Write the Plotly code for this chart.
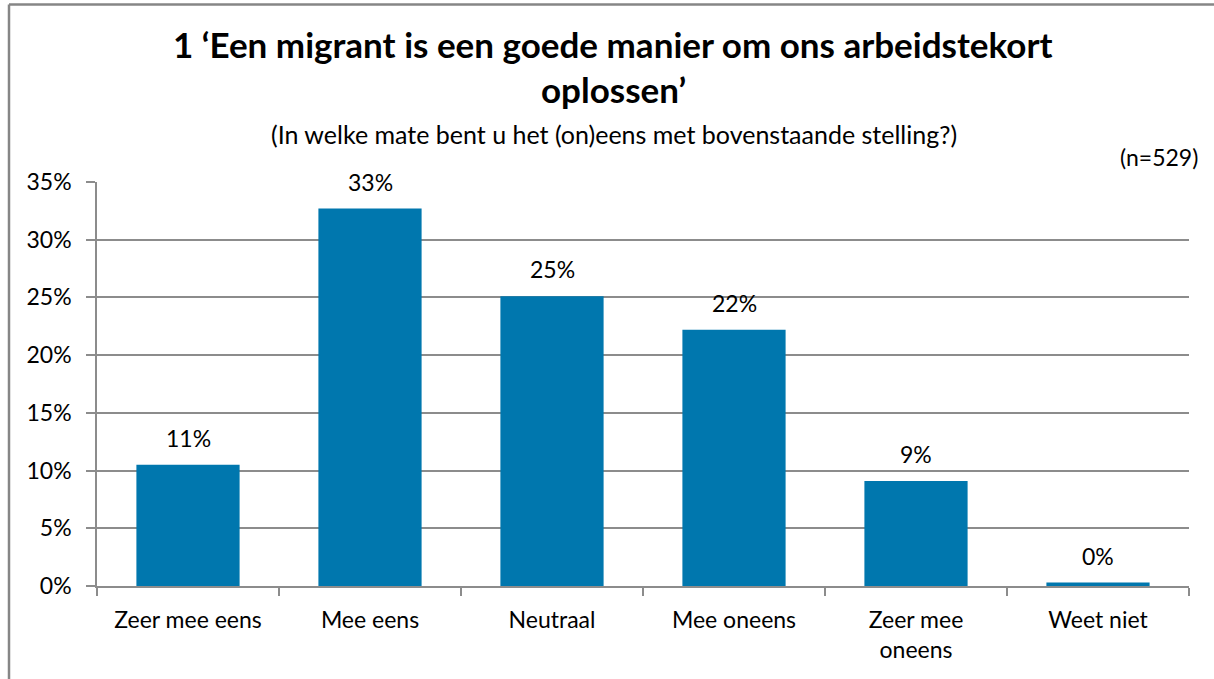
import plotly.graph_objects as go

categories = ["Zeer mee eens", "Mee eens", "Neutraal", "Mee oneens", "Zeer mee<br>oneens", "Weet niet"]
values = [10.5, 32.7, 25.1, 22.2, 9.1, 0.3]
y_ticks = [0, 5, 10, 15, 20, 25, 30, 35]
y_ticklabels = [f"{v}%" for v in y_ticks]

title_line1 = "<b>1 ‘Een migrant is een goede manier om ons arbeidstekort</b>"
title_line2 = "<b>oplossen’</b>"
subtitle = "(In welke mate bent u het (on)eens met bovenstaande stelling?)"
n_note = "(n=529)"

FONT = "Lato, 'Open Sans', sans-serif"
BAR = "#0077AE"
GRID = "#8C8C8C"
TXT = 23

fig = go.Figure(
    go.Bar(
        x=categories,
        y=values,
        marker=dict(color=BAR, line=dict(width=0)),
        hoverinfo="skip",
    )
)

L, R, T, B = 97, 25, 182, 93
W, H = 1214, 679
pw, ph = W - L - R, H - T - B

def px_x(px):
    return (px - L) / pw

def px_y(py):
    return (H - B - py) / ph

annotations = [
    dict(text=f"{int(v + 0.5)}%", x=c, y=v, xref="x", yref="y",
         xanchor="center", yanchor="middle", yshift=27, showarrow=False,
         font=dict(size=TXT, family=FONT, color="black"))
    for c, v in zip(categories, values)
]
annotations += [
    dict(text=title_line1, xref="paper", yref="paper", x=px_x(613), y=px_y(44),
         xanchor="center", yanchor="middle", showarrow=False,
         font=dict(size=35, family=FONT, color="black")),
    dict(text=title_line2, xref="paper", yref="paper", x=px_x(613), y=px_y(89),
         xanchor="center", yanchor="middle", showarrow=False,
         font=dict(size=35, family=FONT, color="black")),
    dict(text=subtitle, xref="paper", yref="paper", x=px_x(614), y=px_y(134),
         xanchor="center", yanchor="middle", showarrow=False,
         font=dict(size=25, family=FONT, color="black")),
    dict(text=n_note, xref="paper", yref="paper", x=px_x(1200), y=px_y(157),
         xanchor="right", yanchor="middle", showarrow=False,
         font=dict(size=TXT, family=FONT, color="black")),
]

fig.update_layout(
    width=W,
    height=H,
    margin=dict(l=L, r=R, t=T, b=B, pad=0),
    paper_bgcolor="white",
    plot_bgcolor="white",
    font=dict(family=FONT, size=TXT, color="black"),
    bargap=0.433,
    showlegend=False,
    xaxis=dict(
        showline=True,
        linecolor=GRID,
        linewidth=1.5,
        ticks="outside",
        tickson="boundaries",
        ticklen=8,
        tickcolor=GRID,
        tickwidth=1.5,
        showgrid=False,
        tickfont=dict(size=TXT, family=FONT),
        ticklabelstandoff=13,
    ),
    yaxis=dict(
        range=[0, 35],
        tickvals=y_ticks,
        ticktext=y_ticklabels,
        showgrid=True,
        gridcolor=GRID,
        gridwidth=1.5,
        showline=True,
        linecolor=GRID,
        linewidth=1.5,
        ticks="outside",
        ticklen=9,
        tickcolor=GRID,
        tickwidth=1.5,
        zeroline=False,
        tickfont=dict(size=TXT, family=FONT),
        ticklabelstandoff=10,
    ),
    annotations=annotations,
    shapes=[
        dict(type="line", xref="paper", yref="paper", x0=px_x(9), x1=px_x(1230),
             y0=px_y(4.5), y1=px_y(4.5), line=dict(color="#868686", width=2.5)),
        dict(type="line", xref="paper", yref="paper", x0=px_x(9), x1=px_x(9),
             y0=px_y(4.5), y1=px_y(700), line=dict(color="#868686", width=2.5)),
    ],
)

fig.write_html(
    "out.html",
    config={"displayModeBar": False},
    post_script="document.body.style.margin='0';document.body.style.overflow='hidden';",
)
